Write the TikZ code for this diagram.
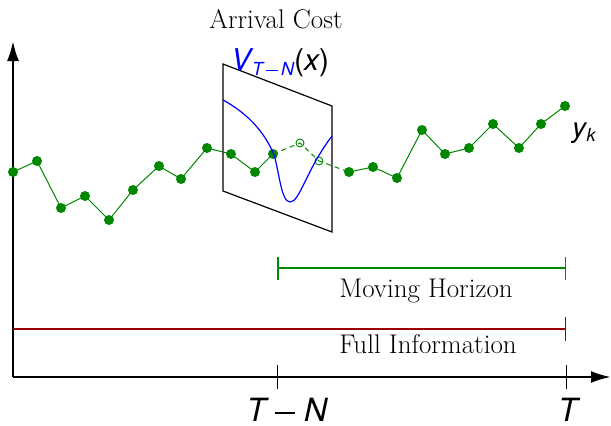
\documentclass[tikz,border=0pt]{standalone}
\usepackage{fontspec}
\newfontfamily\heros{TeX Gyre Heros}
\usetikzlibrary{arrows.meta}
\definecolor{dgreen}{RGB}{0,135,0}
\definecolor{dred}{RGB}{155,0,0}
\newcommand{\bigminus}{\rule[7pt]{20pt}{1.8pt}}
\newcommand{\smallminus}{\rule[4pt]{12pt}{1.2pt}}
\tikzset{
  dot/.style={circle,fill=dgreen,inner sep=0pt,minimum size=10pt},
  odot/.style={circle,draw=dgreen,line width=0.9pt,inner sep=0pt,minimum size=8pt},
  link/.style={dgreen,line width=1pt},
  dlink/.style={dgreen,line width=1pt,dash pattern=on 5pt off 4pt},
  axis/.style={line width=2.5pt,-{Latex[length=20pt,width=12pt]}},
  tick/.style={line width=1pt},
  serif/.style={font=\fontsize{27}{31}\selectfont,inner sep=0pt},
  mlab/.style={font=\fontsize{32}{35}\selectfont\heros,inner sep=0pt,anchor=base},
}
\begin{document}
\begin{tikzpicture}[x=1pt,y=-1pt]
\useasboundingbox (0,0) rectangle (611,426);
% axes
\coordinate (O) at (13,377);
\coordinate (Ytop) at (13,41);
\coordinate (Xend) at (611,377);
\draw[axis] (O) -- (Ytop);
\draw[axis] (O) -- (Xend);
% ticks
\coordinate (t1a) at (277,365); \coordinate (t1b) at (277,389);
\coordinate (t2a) at (566,365); \coordinate (t2b) at (566,389);
\draw[tick] (t1a) -- (t1b);
\draw[tick] (t2a) -- (t2b);
\node[mlab] (lTN) at (287,421) {\itshape T\kern9pt\bigminus\kern9pt N};
\node[mlab] (lT) at (568,421) {\itshape T};
% bars
\coordinate (g1) at (277,268); \coordinate (g2) at (566,268);
\draw[dgreen,line width=2.5pt,{Bar[width=23pt,line width=1.5pt]}-{Bar[width=23pt,line width=1.5pt]}] (g1) -- (g2);
\coordinate (r1) at (13,329); \coordinate (r2) at (566,329);
\draw[dred,line width=2.5pt,-{Bar[width=24pt,line width=1.5pt]}] (r1) -- (r2);
\node[serif] (mh) at (426,291) {Moving Horizon};
\node[serif] (fi) at (428,344) {Full Information};
% arrival cost plane
\coordinate (a) at (223,64);
\coordinate (b) at (332,106);
\coordinate (c) at (332,232);
\coordinate (d) at (223,191);
\draw[line width=1.2pt] (a) -- (b) -- (c) -- (d) -- cycle;
\node[serif] (ac) at (276,19) {Arrival Cost};
\node[font=\fontsize{30}{32}\selectfont\heros,inner sep=0pt,anchor=base west] (vl) at (231,70)
  {\color{blue}\itshape V\kern1pt\raisebox{-5pt}{\fontsize{18}{18}\selectfont T\kern3pt\smallminus\kern3pt N}\color{black}\upshape(\itshape x\upshape)};
% data points
\node[dot] (p1) at (13,172) {};
\node[dot] (p2) at (37,161) {};
\node[dot] (p3) at (61,208) {};
\node[dot] (p4) at (85,196) {};
\node[dot] (p5) at (109,220) {};
\node[dot] (p6) at (133,190) {};
\node[dot] (p7) at (159,166) {};
\node[dot] (p8) at (181,179) {};
\node[dot] (p9) at (207,148) {};
\node[dot] (p10) at (231,154) {};
\node[dot] (p11) at (255,172) {};
\node[dot] (p12) at (273,154) {};
\node[odot] (o1) at (300,143) {};
\node[odot] (o2) at (319,161) {};
\node[dot] (p13) at (349,172) {};
\node[dot] (p14) at (373,167) {};
\node[dot] (p15) at (397,178) {};
\node[dot] (p16) at (422,130) {};
\node[dot] (p17) at (445,154) {};
\node[dot] (p18) at (469,148) {};
\node[dot] (p19) at (493,124) {};
\node[dot] (p20) at (519,148) {};
\node[dot] (p21) at (541,124) {};
\node[dot] (p22) at (565,106) {};
\draw[link] (p1.center) -- (p2.center) -- (p3.center) -- (p4.center) -- (p5.center) -- (p6.center) -- (p7.center) -- (p8.center) -- (p9.center) -- (p10.center) -- (p11.center) -- (p12.center);
\draw[dlink] (p12.center) -- (o1.center) -- (o2.center) -- (p13.center);
\draw[link] (p13.center) -- (p14.center) -- (p15.center) -- (p16.center) -- (p17.center) -- (p18.center) -- (p19.center) -- (p20.center) -- (p21.center) -- (p22.center);
\node[font=\fontsize{28}{30}\selectfont\heros,inner sep=0pt,anchor=base west] (yk) at (572,137)
  {\itshape y\kern0.5pt\raisebox{-4pt}{\fontsize{18}{18}\selectfont k}};
% blue arrival cost curve
\coordinate (c0) at (223,100);
\coordinate (c1) at (274,155);
\coordinate (c2) at (290,202);
\coordinate (c3) at (332,136);
\draw[blue,line width=1.2pt] (c0) .. controls (245,112) and (264,130) .. (c1)
  .. controls (279,170) and (281,202) .. (c2)
  .. controls (300,202) and (306,170) .. (c3);
\end{tikzpicture}
\end{document}
